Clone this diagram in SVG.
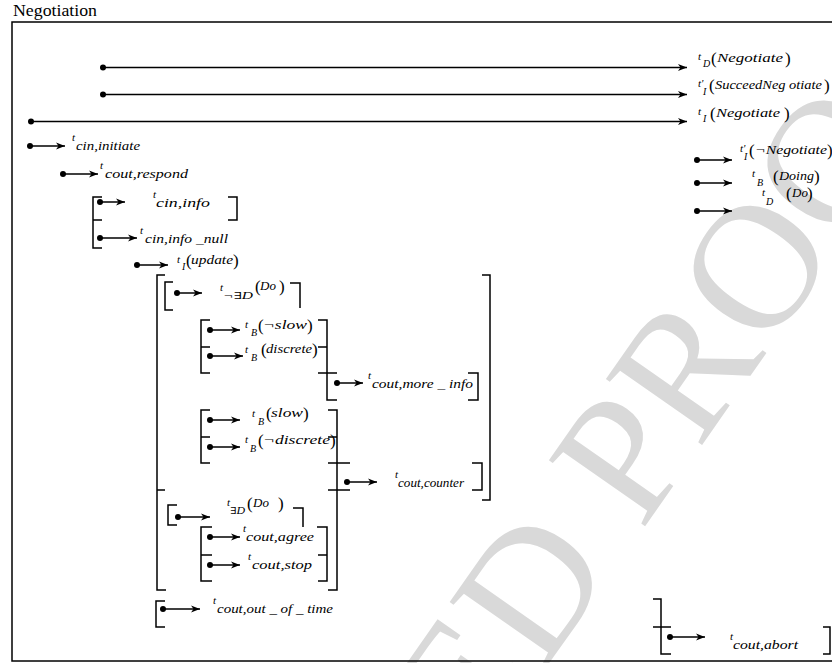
<svg xmlns="http://www.w3.org/2000/svg" width="832" height="663" viewBox="0 0 832 663" font-family="'Liberation Serif', 'Times New Roman', Tinos, 'DejaVu Serif', serif">
<style>
text{fill:#000}
.t{font-style:italic;font-size:11px}
.s{font-style:italic;font-size:13px}
.ss{font-style:italic;font-size:10px}
.p{font-size:17px}
.pi{font-style:italic;font-size:13px}
.br{fill:none;stroke:#000;stroke-width:1.5}
.ar{stroke:#000;stroke-width:1.5;marker-start:url(#dot);marker-end:url(#ah)}
.wm{font-size:178px;fill:#d9d9d9}
</style>
<defs>
<marker id="ah" viewBox="-10 -5 11 10" refX="0" refY="0" markerWidth="11" markerHeight="10" orient="auto" markerUnits="userSpaceOnUse"><path d="M0,0 L-9,-3.6 L-6.5,0 L-9,3.6 Z" fill="#000"/></marker>
<marker id="dot" viewBox="-4 -4 8 8" refX="0" refY="0" markerWidth="8" markerHeight="8" markerUnits="userSpaceOnUse"><circle r="3" fill="#000"/></marker>
</defs>
<rect width="832" height="663" fill="#fff"/>
<g id="watermark"><text class="wm" font-family="'Liberation Serif', serif" transform="translate(480,762) rotate(-55)">ED PROO</text></g>
<text x="13" y="16" font-size="16" textLength="84" lengthAdjust="spacingAndGlyphs" font-family="'Liberation Serif', serif">Negotiation</text>
<rect id="frame" x="12" y="22" width="830" height="639" fill="none" stroke="#000" stroke-width="1.5"/>

<g id="connectors">
<line class="ar" x1="103" y1="67.5" x2="687" y2="67.5"/>
<line class="ar" x1="103" y1="94.5" x2="687" y2="94.5"/>
<line class="ar" x1="31" y1="121.5" x2="687" y2="121.5"/>
<line class="ar" x1="30" y1="146" x2="65" y2="146"/>
<line class="ar" x1="63" y1="174" x2="98" y2="174"/>
<line class="ar" x1="100" y1="202" x2="125" y2="202"/>
<line class="ar" x1="100" y1="238" x2="137" y2="238"/>
<line class="ar" x1="137" y1="265" x2="168" y2="265"/>
<line class="ar" x1="177" y1="293" x2="202" y2="293"/>
<line class="ar" x1="210" y1="330" x2="240" y2="330"/>
<line class="ar" x1="210" y1="356" x2="243" y2="356"/>
<line class="ar" x1="337" y1="383" x2="363" y2="383"/>
<line class="ar" x1="210" y1="420" x2="240" y2="420"/>
<line class="ar" x1="210" y1="447" x2="240" y2="447"/>
<line class="ar" x1="347" y1="482" x2="377" y2="482"/>
<line class="ar" x1="178" y1="517" x2="210" y2="517"/>
<line class="ar" x1="210" y1="537" x2="240" y2="537"/>
<line class="ar" x1="210" y1="565" x2="240" y2="565"/>
<line class="ar" x1="163" y1="609" x2="200" y2="609"/>
<line class="ar" x1="670" y1="637" x2="705" y2="637"/>
<line class="ar" x1="697" y1="160" x2="732" y2="160"/>
<line class="ar" x1="697" y1="183" x2="732" y2="183"/>
<line class="ar" x1="697" y1="211" x2="732" y2="211"/>
</g>

<g id="brackets">
<path class="br" d="M102,197 H93 V248 H102 M93,220 H102 M228,197 H237 V220 H228"/>
<path class="br" d="M165,275 H157 V590 H166 M157,490 H165 M482,275 H490 V500 H482"/>
<path class="br" d="M173,282 H165 V310 H173 M290,283 H300 V308"/>
<path class="br" d="M210,320 H201 V373 H210 M201,347 H210 M318,320 H327 V400 H337 M318,347 H327 M318,373 H337 M468,373 H478 V400 H468"/>
<path class="br" d="M210,410 H201 V463 H210 M201,437 H210 M328,410 H337 V590 H328 M328,437 H337 M328,463 H350 M328,490 H350 M472,463 H482 V490 H472"/>
<path class="br" d="M177,505 H168 V525 H177 M293,508 H303 V527"/>
<path class="br" d="M212,527 H201 V581 H212 M201,555 H212 M317,527 H327 V581 H318 M318,555 H327"/>
<path class="br" d="M165,601 H156 V627 H165"/>
<path class="br" d="M653,599 H661 V654 H671 M653,627 H671 M823,627 H830 V654 H823"/>
</g>

<g id="n-tD-negotiate"><text class="t" x="698" y="60">t</text><text class="ss" x="703" y="67">D</text><text class="p" x="711" y="64">(</text><text class="pi" x="717" y="62" textLength="66" lengthAdjust="spacingAndGlyphs">Negotiate</text><text class="p" x="785" y="64">)</text></g>
<g id="n-tI-succeed"><text class="t" x="698" y="87">t'</text><text class="ss" x="703" y="95">I</text><text class="p" x="709" y="91">(</text><text class="pi" x="715" y="89" textLength="107" lengthAdjust="spacingAndGlyphs">SucceedNeg otiate</text><text class="p" x="824" y="91">)</text></g>
<g id="n-tI-negotiate"><text class="t" x="698" y="115">t</text><text class="ss" x="703" y="122">I</text><text class="p" x="710" y="119">(</text><text class="pi" x="716" y="117" textLength="64" lengthAdjust="spacingAndGlyphs">Negotiate</text><text class="p" x="784" y="119">)</text></g>

<g id="n-initiate"><text class="t" x="72" y="141">t</text><text class="s" x="76" y="150" textLength="64" lengthAdjust="spacingAndGlyphs">cin,initiate</text></g>
<g id="n-respond"><text class="t" x="100" y="169">t</text><text class="s" x="105" y="178" textLength="83" lengthAdjust="spacingAndGlyphs">cout,respond</text></g>
<g id="n-info"><text class="t" x="153" y="198">t</text><text class="s" x="156" y="207" textLength="54" lengthAdjust="spacingAndGlyphs">cin,info</text></g>
<g id="n-info-null"><text class="t" x="140" y="234">t</text><text class="s" x="145" y="243" textLength="83" lengthAdjust="spacingAndGlyphs">cin,info _null</text></g>
<g id="n-update"><text class="t" x="177" y="263">t</text><text class="ss" x="182" y="270">I</text><text class="p" x="186" y="266" font-size="15">(</text><text class="pi" x="191" y="264" font-size="11" textLength="42" lengthAdjust="spacingAndGlyphs">update</text><text class="p" x="233" y="266" font-size="15">)</text></g>

<g id="n-not-exists-do"><text class="t" x="220" y="291">t</text><text class="ss" x="223" y="299" textLength="30" lengthAdjust="spacingAndGlyphs">¬∃D</text><text class="p" x="255" y="292" font-size="15">(</text><text class="pi" x="260" y="290" font-size="12">Do</text><text class="p" x="279" y="292" font-size="15">)</text></g>

<g id="n-not-slow"><text class="t" x="245" y="328">t</text><text class="ss" x="251" y="336">B</text><text class="p" x="258" y="331" font-size="15">(</text><text class="pi" x="263" y="329" font-size="12" textLength="44" lengthAdjust="spacingAndGlyphs">¬slow</text><text class="p" x="307" y="331" font-size="15">)</text></g>
<g id="n-discrete"><text class="t" x="245" y="353">t</text><text class="ss" x="251" y="361">B</text><text class="p" x="261" y="355" font-size="15">(</text><text class="pi" x="266" y="353" font-size="12" textLength="46" lengthAdjust="spacingAndGlyphs">discrete</text><text class="p" x="312" y="355" font-size="15">)</text></g>
<g id="n-more-info"><text class="t" x="368" y="379">t</text><text class="s" x="372" y="388" textLength="101" lengthAdjust="spacingAndGlyphs">cout,more _ info</text></g>

<g id="n-slow"><text class="t" x="252" y="417">t</text><text class="ss" x="258" y="425">B</text><text class="p" x="266" y="419" font-size="15">(</text><text class="pi" x="271" y="417" font-size="12" textLength="32" lengthAdjust="spacingAndGlyphs">slow</text><text class="p" x="303" y="419" font-size="15">)</text></g>
<g id="n-not-discrete"><text class="t" x="245" y="443">t</text><text class="ss" x="250" y="452">B</text><text class="p" x="258" y="446" font-size="15">(</text><text class="pi" x="263" y="444" font-size="12" textLength="67" lengthAdjust="spacingAndGlyphs">¬discrete</text><text class="p" x="330" y="446" font-size="15">)</text></g>
<g id="n-counter"><text class="t" x="395" y="478">t</text><text class="s" x="398" y="487" textLength="66" lengthAdjust="spacingAndGlyphs">cout,counter</text></g>

<g id="n-exists-do"><text class="t" x="227" y="506">t</text><text class="ss" x="230" y="514" textLength="15" lengthAdjust="spacingAndGlyphs">∃D</text><text class="p" x="247" y="509" font-size="15">(</text><text class="pi" x="253" y="507" font-size="12">Do</text><text class="p" x="278" y="509" font-size="15">)</text></g>
<g id="n-agree"><text class="t" x="243" y="532">t</text><text class="s" x="246" y="541" textLength="68" lengthAdjust="spacingAndGlyphs">cout,agree</text></g>
<g id="n-stop"><text class="t" x="248" y="560">t</text><text class="s" x="252" y="569" textLength="60" lengthAdjust="spacingAndGlyphs">cout,stop</text></g>
<g id="n-out-of-time"><text class="t" x="213" y="604">t</text><text class="s" x="217" y="613" textLength="116" lengthAdjust="spacingAndGlyphs">cout,out _ of _ time</text></g>
<g id="n-abort"><text class="t" x="730" y="640">t</text><text class="s" x="733" y="649" textLength="65" lengthAdjust="spacingAndGlyphs">cout,abort</text></g>

<g id="n-not-negotiate"><text class="t" x="740" y="152">t'</text><text class="ss" x="744" y="160">I</text><text class="p" x="749" y="156">(</text><text class="pi" x="755" y="154" textLength="72" lengthAdjust="spacingAndGlyphs">¬Negotiate</text><text class="p" x="827" y="156">)</text></g>
<g id="n-doing"><text class="t" x="752" y="177">t</text><text class="ss" x="757" y="186">B</text><text class="p" x="773" y="182">(</text><text class="pi" x="779" y="180" textLength="35" lengthAdjust="spacingAndGlyphs">Doing</text><text class="p" x="814" y="182">)</text></g>
<g id="n-do"><text class="t" x="762" y="196">t</text><text class="ss" x="766" y="205">D</text><text class="p" x="786" y="199">(</text><text class="pi" x="792" y="197">Do</text><text class="p" x="807" y="199">)</text></g>
</svg>
